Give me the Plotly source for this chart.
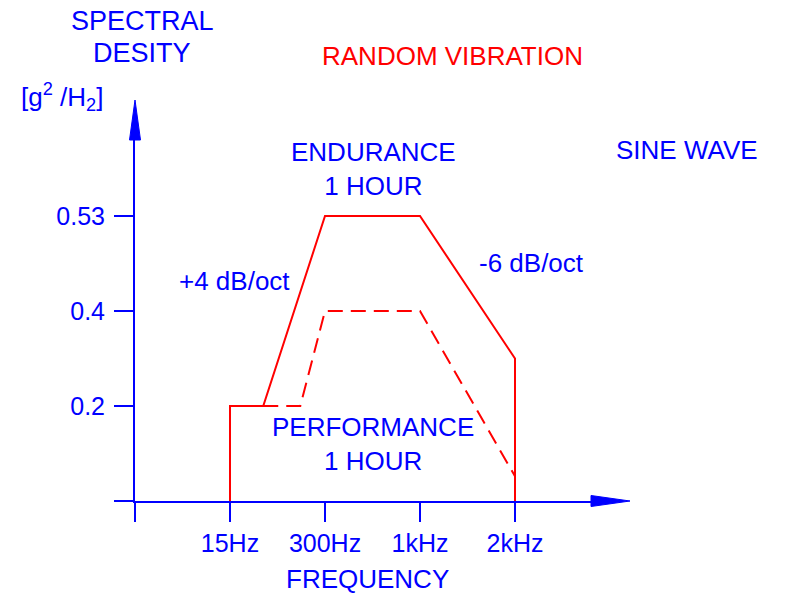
import plotly.graph_objects as go

# ---- data (positions on equally spaced category scales) ----
freq_ticks = [0, 1, 2, 3, 4]
freq_labels = ["", "15Hz", "300Hz", "1kHz", "2kHz"]
psd_ticks = [0, 1, 2, 3]
psd_labels = ["", "0.2", "0.4", "0.53"]

endurance_x = [1, 1, 1.35, 2, 3, 4, 4]
endurance_y = [0, 1, 1, 3, 3, 1.5, 0]

performance_x = [1.35, 1.74, 2, 3, 4]
performance_y = [1, 1, 2, 2, 0.26]

BLUE = "#0000FF"
RED = "#FF0000"
FONT = "Liberation Sans, Arial, sans-serif"
FS = 26

W, H = 785, 593
OFF = 8  # page body margin
# plot area in screen pixels
SL, SR, ST, SB = 135, 591, 140, 501
L, T = SL - OFF, ST - OFF
R = W - (SR - OFF)
B = H - (SB - OFF)
PW, PH = SR - SL, SB - ST
UNIT = 95.0

def px(x):
    return (x - SL) / PW

def py(y):
    return (SB - y) / PH

fig = go.Figure()
fig.add_trace(go.Scatter(x=endurance_x, y=endurance_y, mode="lines",
                         line=dict(color=RED, width=2), cliponaxis=False,
                         hoverinfo="skip", showlegend=False))
fig.add_trace(go.Scatter(x=performance_x, y=performance_y, mode="lines",
                         line=dict(color=RED, width=2, dash="15px,8px"),
                         cliponaxis=False, hoverinfo="skip", showlegend=False))

axis_common = dict(showline=True, linecolor=BLUE, linewidth=2,
                   ticks="outside", ticklen=19, tickwidth=2, tickcolor=BLUE,
                   showgrid=False, zeroline=False, fixedrange=True,
                   tickfont=dict(family=FONT, size=25, color=BLUE))

fig.update_layout(
    width=W, height=H,
    margin=dict(l=L, r=R, t=T, b=B, pad=0),
    paper_bgcolor="white", plot_bgcolor="white",
    xaxis=dict(range=[0, PW / UNIT], tickvals=freq_ticks, ticktext=freq_labels,
               **axis_common),
    yaxis=dict(range=[0, PH / UNIT], tickvals=psd_ticks, ticktext=psd_labels,
               ticklabelstandoff=4, **axis_common),
    font=dict(family=FONT, size=FS, color=BLUE),
)

# arrow heads
hx = 5.5 / PH
fig.add_shape(type="path", xref="paper", yref="paper",
              path=f"M 1,{hx} L {px(630)},0 L 1,{-hx} Z",
              fillcolor=BLUE, line=dict(color=BLUE, width=1))
hy = 5.5 / PW
fig.add_shape(type="path", xref="paper", yref="paper",
              path=f"M {-hy},1 L 0,{py(100)} L {hy},1 Z",
              fillcolor=BLUE, line=dict(color=BLUE, width=1))

def text(x, y, s, color=BLUE, size=FS):
    fig.add_annotation(x=px(x), y=py(y), xref="paper", yref="paper", text=s,
                       showarrow=False, xanchor="center", yanchor="middle",
                       borderpad=0,
                       font=dict(family=FONT, size=size, color=color))

text(142, 21, "SPECTRAL", size=27)
text(142, 53, "DESITY", size=27)
text(62, 97, "[g<sup>2</sup> /H<sub>2</sub>]")
text(452, 56, "RANDOM VIBRATION", color=RED)
text(373, 169, "ENDURANCE<br>1 HOUR")
text(687, 150, "SINE WAVE")
text(234, 281, "+4 dB/oct")
text(531, 263, "-6 dB/oct")
text(373, 444, "PERFORMANCE<br>1 HOUR")
text(367, 579, "FREQUENCY")

fig.write_html("out.html")
